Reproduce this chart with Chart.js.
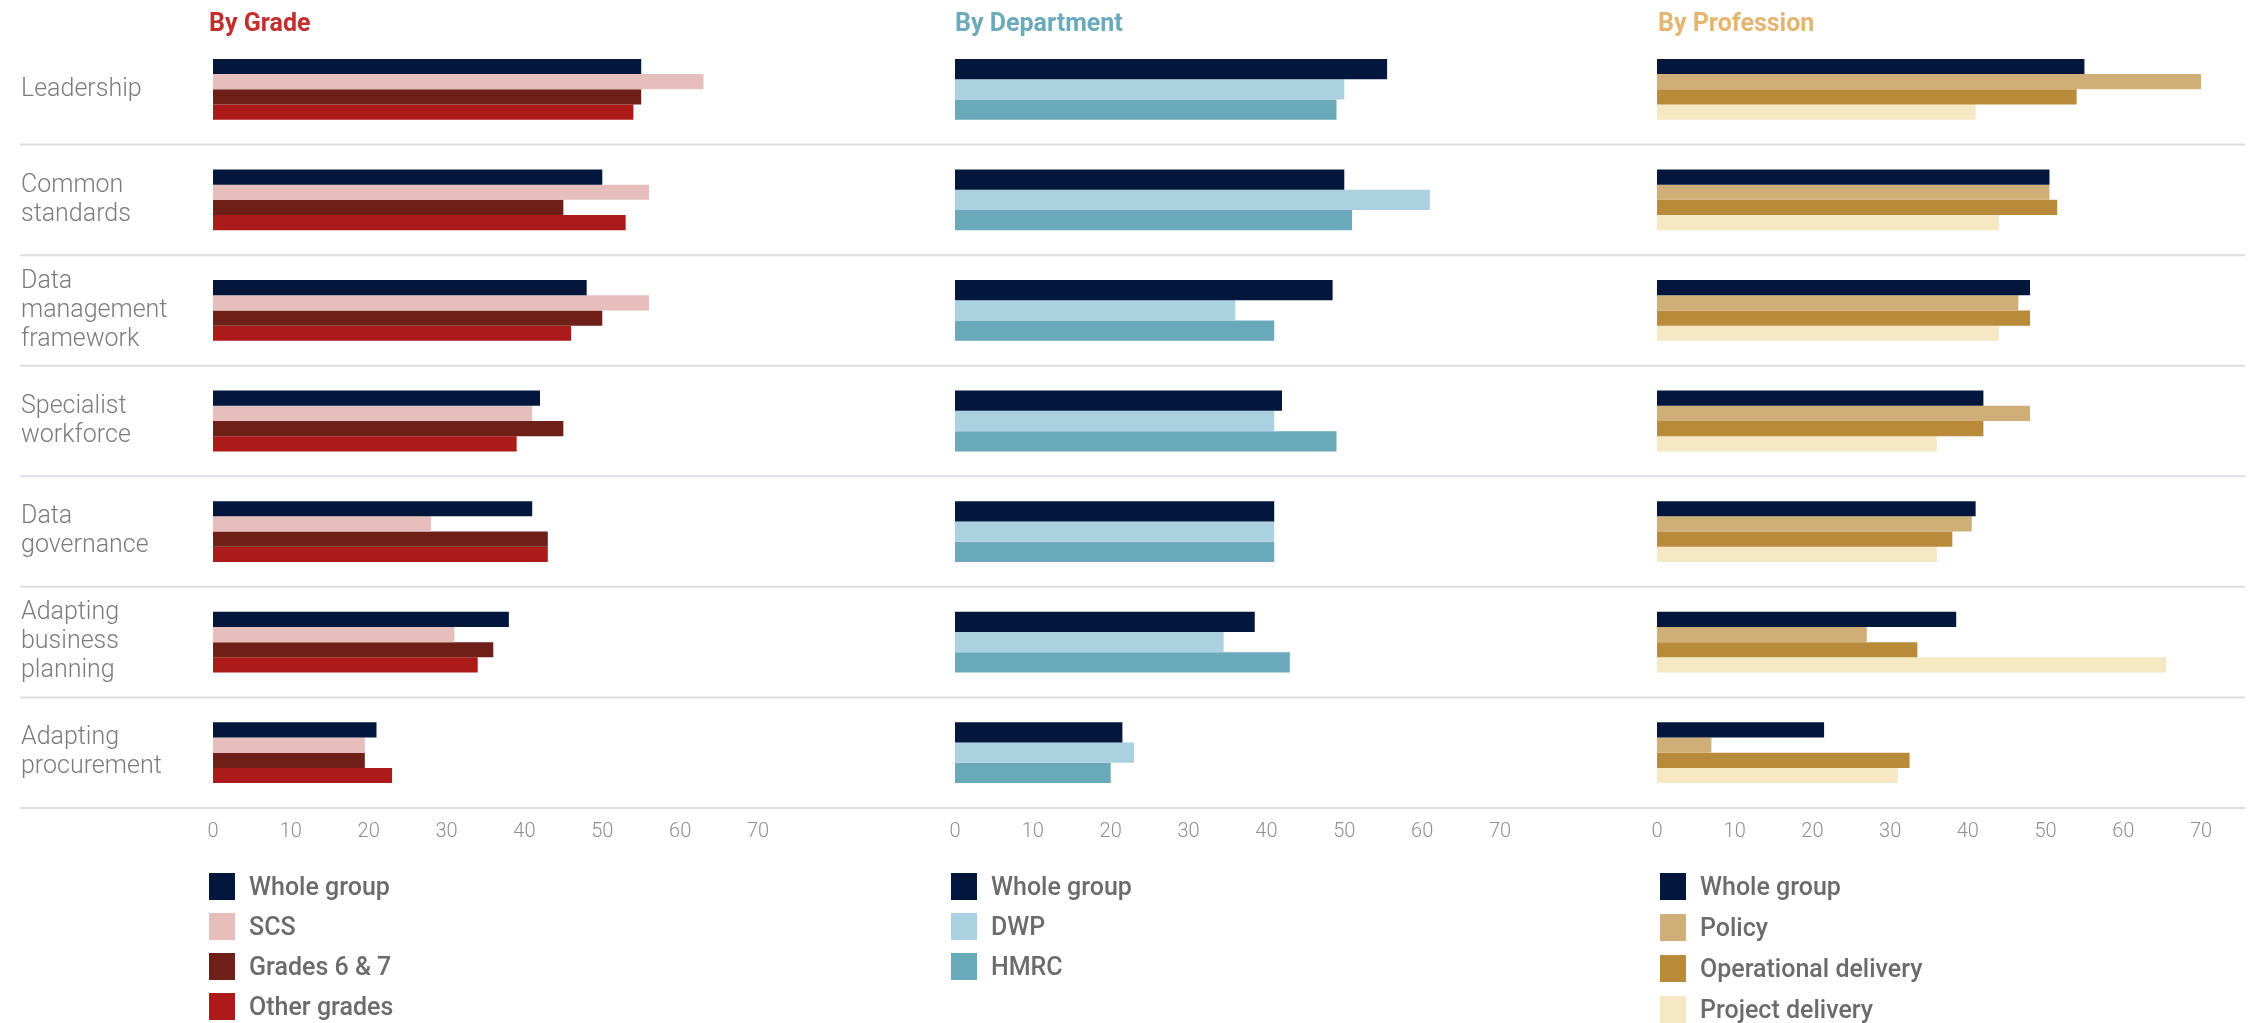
<!DOCTYPE html>
<html>
<head>
<meta charset="utf-8">
<script src="https://cdn.jsdelivr.net/npm/chart.js@4.4.1/dist/chart.umd.min.js"></script>
<style>
  html, body { margin: 0; padding: 0; background: #ffffff; }
  #wrap { position: relative; width: 2259px; height: 1023px; overflow: hidden; font-family: Roboto, "Open Sans", sans-serif; }
  #wrap canvas { position: absolute; left: 0; top: 0; }
  .title { position: absolute; top: 9px; line-height: 28px; font-size: 25px; font-weight: 700; white-space: nowrap; }
  .legend { position: absolute; top: 873px; }
  .legend .item { display: flex; align-items: center; height: 27px; font-size: 25px; font-weight: 500; color: #6b6b6b; white-space: nowrap; }
  .legend .sw { width: 26px; height: 27px; margin-right: 14px; flex: none; }
</style>
</head>
<body>
<div id="wrap">
  <canvas id="cGrade" width="2259" height="1023"></canvas>
  <canvas id="cDept" width="2259" height="1023"></canvas>
  <canvas id="cProf" width="2259" height="1023"></canvas>
  <div class="title" id="tGrade" style="left:209px;color:#c22f2c;"></div>
  <div class="title" id="tDept" style="left:955px;color:#6aaabb;"></div>
  <div class="title" id="tProf" style="left:1658px;color:#e5b570;"></div>
  <div class="legend" id="lGrade" style="left:209px;"></div>
  <div class="legend" id="lDept" style="left:951px;"></div>
  <div class="legend" id="lProf" style="left:1660px;"></div>
</div>
<script>
// ---- data ----
const categories = [
  ['Leadership'],
  ['Common', 'standards'],
  ['Data', 'management', 'framework'],
  ['Specialist', 'workforce'],
  ['Data', 'governance'],
  ['Adapting', 'business', 'planning'],
  ['Adapting', 'procurement']
];
const xTickValues = [0, 10, 20, 30, 40, 50, 60, 70];

const panelTitles = ['By Grade', 'By Department', 'By Profession'];

const gradeSeries = ['Whole group', 'SCS', 'Grades 6 & 7', 'Other grades'];
const gradeWhole = [55, 50, 48, 42, 41, 38, 21];
const gradeSCS = [63, 56, 56, 41, 28, 31, 19.5];
const gradeG67 = [55, 45, 50, 45, 43, 36, 19.5];
const gradeOther = [54, 53, 46, 39, 43, 34, 23];

const deptSeries = ['Whole group', 'DWP', 'HMRC'];
const deptWhole = [55.5, 50, 48.5, 42, 41, 38.5, 21.5];
const deptDWP = [50, 61, 36, 41, 41, 34.5, 23];
const deptHMRC = [49, 51, 41, 49, 41, 43, 20];

const profSeries = ['Whole group', 'Policy', 'Operational delivery', 'Project delivery'];
const profWhole = [55, 50.5, 48, 42, 41, 38.5, 21.5];
const profPolicy = [70.5, 50.5, 46.5, 48, 40.5, 27, 7];
const profOpDel = [54, 51.5, 48, 42, 38, 33.5, 32.5];
const profProject = [41, 44, 44, 36, 36, 65.5, 31];

// ---- styles ----
const gradeColors = ['#03173d', '#e6bebc', '#6e1f18', '#ac1a1a'];
const deptColors = ['#03173d', '#abd1e1', '#6aa9ba'];
const profColors = ['#03173d', '#d0ae78', '#ba8a3b', '#f6e8c3'];

const FONT = 'Roboto, "Open Sans", sans-serif';
const W = 2259, H = 1023;
const TOP = 34;          // chart area top
const AXIS_H = 40;       // x axis band height
const BOTTOM_PAD = 175;  // room left for the legends

// Separator lines between categories, running the full page width
const separators = {
  id: 'separators',
  beforeDatasetsDraw(chart) {
    const y = chart.scales.y;
    const n = y.ticks.length;
    const step = y.getPixelForTick(1) - y.getPixelForTick(0);
    const ctx = chart.ctx;
    ctx.save();
    ctx.strokeStyle = '#dcdde3';
    ctx.lineWidth = 2;
    for (let i = 1; i <= n; i++) {
      const py = y.getPixelForTick(i - 1) + step / 2;
      ctx.beginPath();
      ctx.moveTo(20, py);
      ctx.lineTo(2245, py);
      ctx.stroke();
    }
    ctx.restore();
  }
};

function makePanel(canvasId, names, values, colors, left, right, showLabels) {
  const datasets = names.map((name, i) => ({
    label: name,
    data: values[i],
    backgroundColor: colors[i],
    borderWidth: 0,
    categoryPercentage: 0.55,
    barPercentage: 1.0
  }));
  return new Chart(document.getElementById(canvasId), {
    type: 'bar',
    data: { labels: categories, datasets },
    options: {
      indexAxis: 'y',
      responsive: false,
      animation: false,
      devicePixelRatio: 1,
      events: [],
      layout: {
        padding: { left: showLabels ? 21 : left, right: W - right, top: TOP, bottom: BOTTOM_PAD }
      },
      plugins: { legend: { display: false }, tooltip: { enabled: false }, title: { display: false } },
      scales: {
        x: {
          type: 'linear',
          min: 0,
          max: 70,
          afterBuildTicks(scale) { scale.ticks = xTickValues.map(v => ({ value: v })); },
          afterFit(scale) { scale.height = AXIS_H; },
          grid: { display: false, drawTicks: false },
          border: { display: false },
          ticks: { padding: 12, color: '#8f8f8f', font: { family: FONT, size: 20, weight: 300, lineHeight: 1.2 } }
        },
        y: {
          display: showLabels,
          afterFit(scale) { if (showLabels) scale.width = left - 21; },
          grid: { display: false, drawTicks: false },
          border: { display: false },
          ticks: {
            crossAlign: 'far',
            padding: 0,
            color: '#7b7b7b',
            font: { family: FONT, size: 25, weight: 300, lineHeight: 1.16 }
          }
        }
      }
    },
    plugins: showLabels ? [separators] : []
  });
}

makePanel('cGrade', gradeSeries, [gradeWhole, gradeSCS, gradeG67, gradeOther], gradeColors, 213, 758, true);
makePanel('cDept', deptSeries, [deptWhole, deptDWP, deptHMRC], deptColors, 955, 1500, false);
makePanel('cProf', profSeries, [profWhole, profPolicy, profOpDel, profProject], profColors, 1657, 2201, false);

// Titles and legends
['tGrade', 'tDept', 'tProf'].forEach((id, i) => { document.getElementById(id).textContent = panelTitles[i]; });

function buildLegend(id, names, colors, gap) {
  const box = document.getElementById(id);
  names.forEach((name, i) => {
    const item = document.createElement('div');
    item.className = 'item';
    if (i > 0) item.style.marginTop = gap + 'px';
    const sw = document.createElement('span');
    sw.className = 'sw';
    sw.style.background = colors[i];
    const tx = document.createElement('span');
    tx.textContent = name;
    item.appendChild(sw);
    item.appendChild(tx);
    box.appendChild(item);
  });
}
buildLegend('lGrade', gradeSeries, gradeColors, 13);
buildLegend('lDept', deptSeries, deptColors, 13);
buildLegend('lProf', profSeries, profColors, 14);
</script>
</body>
</html>
